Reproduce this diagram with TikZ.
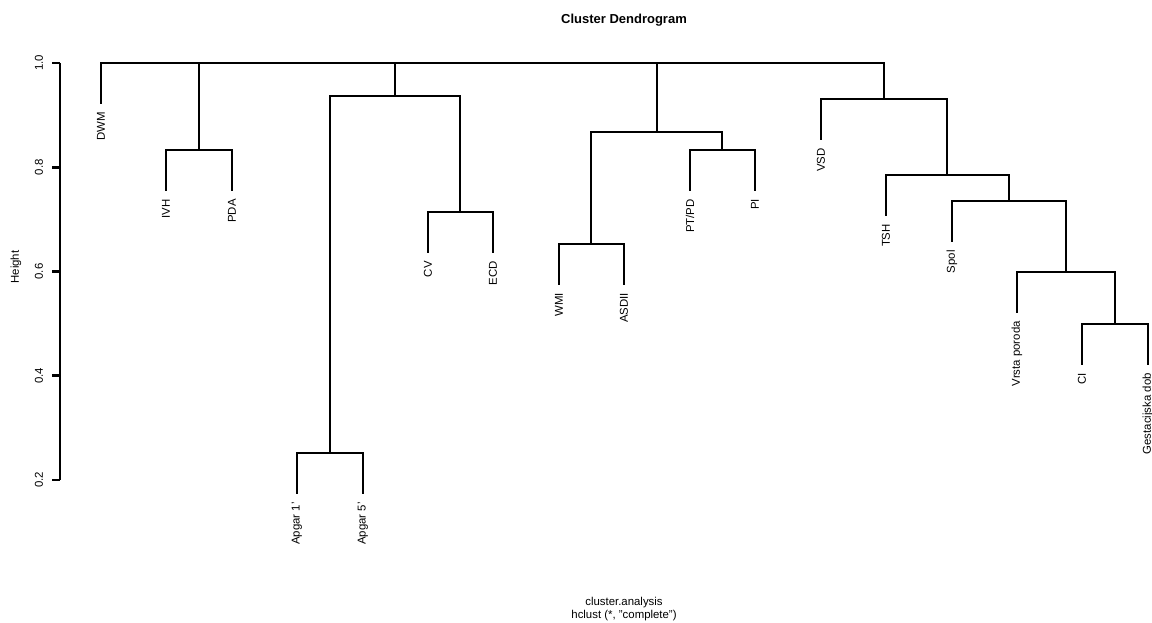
\documentclass[tikz,border=0pt]{standalone}
\usepackage{fontspec}
\setmainfont{Liberation Sans}
\begin{document}
\begin{tikzpicture}[x=1pt,y=-1pt,
  dline/.style={line width=2.8pt,line cap=rect},
  leaflabel/.style={rotate=90,anchor=east,inner sep=0pt,font=\fontsize{11.4}{13}\selectfont},
  ticklabel/.style={rotate=90,anchor=center,inner sep=0pt,font=\fontsize{11.4}{13}\selectfont},
  txt/.style={inner sep=0pt,font=\fontsize{11.4}{13}\selectfont}]
\useasboundingbox (0,0) rectangle (1152,623);
% leaf ends
\coordinate (DWM) at (101,103);
\coordinate (IVH) at (166,190);
\coordinate (PDA) at (232,190);
\coordinate (A1) at (297,493);
\coordinate (A5) at (363,493);
\coordinate (CV) at (428,252);
\coordinate (ECD) at (493,252);
\coordinate (WMI) at (559,284);
\coordinate (ASDII) at (624,284);
\coordinate (PTPD) at (690,190);
\coordinate (PI) at (755,190);
\coordinate (VSD) at (821,139);
\coordinate (TSH) at (886,215);
\coordinate (Spol) at (952,241);
\coordinate (Vrsta) at (1017,312);
\coordinate (CI) at (1082,364);
\coordinate (Gest) at (1148,364);
% merges
\coordinate (m1) at (199,150);
\coordinate (m2) at (330,453);
\coordinate (m3) at (460,212);
\coordinate (m4) at (395,96);
\coordinate (m5) at (591,244);
\coordinate (m6) at (722,150);
\coordinate (m7) at (657,132);
\coordinate (m8) at (1115,324);
\coordinate (m9) at (1066,272);
\coordinate (m10) at (1009,201);
\coordinate (m11) at (947,175);
\coordinate (m12) at (884,99);
\coordinate (root) at (492,63);
% branches
\draw[dline] (IVH) |- (m1) -| (PDA);
\draw[dline] (A1) |- (m2) -| (A5);
\draw[dline] (CV) |- (m3) -| (ECD);
\draw[dline] (m2) |- (m4) -| (m3);
\draw[dline] (WMI) |- (m5) -| (ASDII);
\draw[dline] (PTPD) |- (m6) -| (PI);
\draw[dline] (m5) |- (m7) -| (m6);
\draw[dline] (CI) |- (m8) -| (Gest);
\draw[dline] (Vrsta) |- (m9) -| (m8);
\draw[dline] (Spol) |- (m10) -| (m9);
\draw[dline] (TSH) |- (m11) -| (m10);
\draw[dline] (VSD) |- (m12) -| (m11);
\draw[dline] (DWM) |- (root) -| (m12);
\draw[dline] (m1) -- (m1 |- root);
\draw[dline] (m4) -- (m4 |- root);
\draw[dline] (m7) -- (m7 |- root);
% leaf labels
\node[leaflabel] (tDWM) at ([yshift=-9pt]DWM) {DWM};
\node[leaflabel] (tIVH) at ([yshift=-9pt]IVH) {IVH};
\node[leaflabel] (tPDA) at ([yshift=-9pt]PDA) {PDA};
\node[leaflabel] (tA1) at ([yshift=-9pt]A1) {Apgar 1'};
\node[leaflabel] (tA5) at ([yshift=-9pt]A5) {Apgar 5'};
\node[leaflabel] (tCV) at ([yshift=-9pt]CV) {CV};
\node[leaflabel] (tECD) at ([yshift=-9pt]ECD) {ECD};
\node[leaflabel] (tWMI) at ([yshift=-9pt]WMI) {WMI};
\node[leaflabel] (tASDII) at ([yshift=-9pt]ASDII) {ASDII};
\node[leaflabel] (tPTPD) at ([yshift=-9pt]PTPD) {PT/PD};
\node[leaflabel] (tPI) at ([yshift=-9pt]PI) {PI};
\node[leaflabel] (tVSD) at ([yshift=-9pt]VSD) {VSD};
\node[leaflabel] (tTSH) at ([yshift=-9pt]TSH) {TSH};
\node[leaflabel] (tSpol) at ([yshift=-9pt]Spol) {Spol};
\node[leaflabel] (tVrsta) at ([yshift=-9pt]Vrsta) {Vrsta poroda};
\node[leaflabel] (tCI) at ([yshift=-9pt]CI) {CI};
\node[leaflabel] (tGest) at ([yshift=-9pt]Gest) {Gestacijska dob};
% axis
\coordinate (ax0) at (60,63);
\coordinate (ax1) at (60,480);
\draw[dline,line cap=butt] (ax0) -- (ax1);
\foreach \v/\yy in {1.0/63,0.8/167.25,0.6/271.5,0.4/375.75,0.2/480}{
  \draw[dline,line cap=butt] (52,\yy) -- (60,\yy);
  \node[ticklabel] at (39,\yy) {\v};
}
\node[ticklabel] (ylab) at (16,267) {Height};
% titles
\node[inner sep=0pt,font=\fontsize{13}{15}\selectfont\bfseries] (title) at (624,20) {Cluster Dendrogram};
\node[txt] (sub1) at (624,603) {cluster.analysis};
\node[txt] (sub2) at (624,616) {hclust (*, "complete")};
\end{tikzpicture}
\end{document}
